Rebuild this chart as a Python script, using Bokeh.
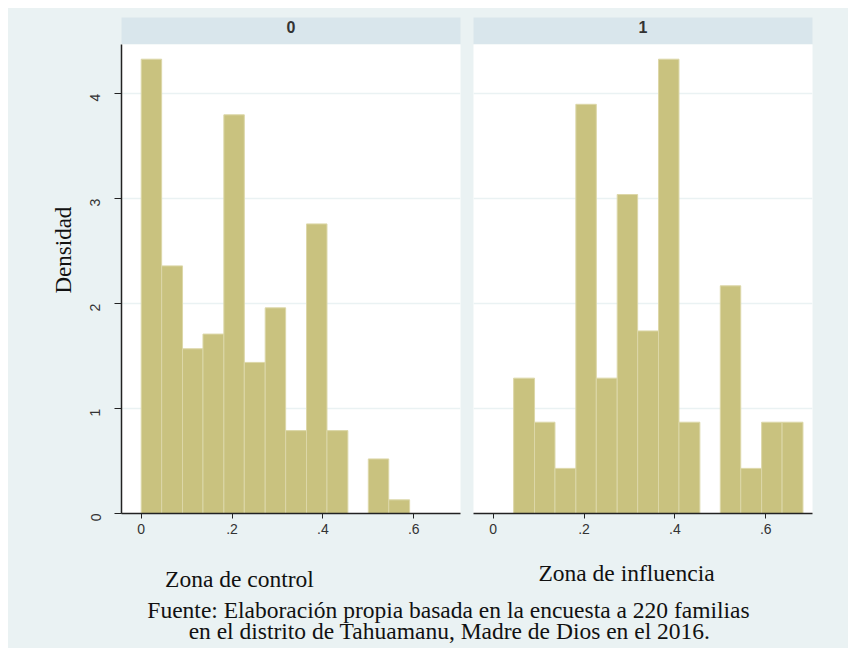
import math
from bokeh.plotting import figure
from bokeh.layouts import row, column
from bokeh.models import (Range1d, FixedTicker, CustomJSTickFormatter, Label, Title,
                          ColumnDataSource, Spacer)
from bokeh.embed import file_html
from bokeh.resources import INLINE

# ---------------- data ----------------
bin_edges = [0.000, 0.045, 0.091, 0.136, 0.182, 0.227, 0.273, 0.318,
             0.364, 0.409, 0.455, 0.500, 0.545, 0.591, 0.636, 0.682]
dens_control = [4.33, 2.36, 1.57, 1.71, 3.80, 1.44, 1.96, 0.79, 2.76, 0.79, 0.0, 0.52, 0.13]
dens_influence = [0.0, 1.29, 0.87, 0.43, 3.90, 1.29, 3.04, 1.74, 4.33, 0.87, 0.0, 2.17, 0.43, 0.87, 0.87]
panel_labels = ["0", "1"]
x_ticks = [0, 0.2, 0.4, 0.6]
x_tick_labels = ["0", ".2", ".4", ".6"]
y_ticks = [0, 1, 2, 3, 4]
y_tick_labels = ["0", "1", "2", "3", "4"]
y_title = "Densidad"
sub_titles = ["Zona de control", "Zona de influencia"]
note_lines = ["Fuente: Elaboración propia basada en la encuesta a 220 familias",
              "en el distrito de Tahuamanu, Madre de Dios en el 2016."]

# ---------------- style ----------------
BG = "#EAF2F3"
STRIP = "#D9E6EC"
BAR = "#C9C27F"
BAR_EDGE = "#DCD7A8"
AXIS = "#222222"
SANS = "Liberation Sans"
SERIF = "Liberation Serif"

x_rng = (-0.0434, 0.703)
y_rng = (0.0, 4.47)


def fmt(vals, labs):
    return CustomJSTickFormatter(args=dict(vals=vals, labs=labs),
                                 code="const i = vals.indexOf(tick); return i >= 0 ? labs[i] : '';")


def header(label, w, left, right):
    h = figure(width=w, height=36, x_range=Range1d(0, 1), y_range=Range1d(0, 1),
               x_axis_type=None, y_axis_type=None, toolbar_location=None, tools="",
               output_backend="svg", min_border_left=left, min_border_right=right,
               min_border_top=9, min_border_bottom=0)
    h.background_fill_color = STRIP
    h.border_fill_color = BG
    h.outline_line_color = None
    h.add_layout(Label(x=0.5, y=0.64, text=label, text_align="center", text_baseline="middle",
                       text_font=SANS, text_font_size="16px", text_font_style="bold",
                       text_color="#333333"))
    return h


def panel(dens, w, left, right, show_y):
    p = figure(width=w, height=501, x_range=Range1d(*x_rng), y_range=Range1d(*y_rng),
               toolbar_location=None, tools="", output_backend="svg",
               min_border_left=left, min_border_right=right,
               min_border_top=0, min_border_bottom=32)
    p.background_fill_color = "white"
    p.border_fill_color = BG
    p.outline_line_color = None
    n = len(dens)
    keep = [i for i in range(n) if dens[i] > 0]
    src = ColumnDataSource(dict(
        left=[bin_edges[i] for i in keep],
        right=[bin_edges[i + 1] for i in keep],
        top=[dens[i] for i in keep],
        bottom=[0.0 for i in keep],
    ))
    p.quad(left="left", right="right", top="top", bottom="bottom", source=src,
           fill_color=BAR, line_color=BAR_EDGE, line_width=1)
    # x axis
    xa = p.xaxis[0]
    xa.ticker = FixedTicker(ticks=x_ticks)
    xa.formatter = fmt(x_ticks, x_tick_labels)
    xa.axis_line_color = AXIS
    xa.axis_line_width = 1.5
    xa.major_tick_line_color = AXIS
    xa.major_tick_out = 5
    xa.major_tick_in = 0
    xa.minor_tick_line_color = None
    xa.major_label_standoff = 5
    xa.major_label_text_font = SANS
    xa.major_label_text_font_size = "14px"
    xa.major_label_text_color = "#333333"
    # y axis
    ya = p.yaxis[0]
    ya.ticker = FixedTicker(ticks=y_ticks)
    ya.formatter = fmt(y_ticks, y_tick_labels)
    if show_y:
        ya.axis_line_color = AXIS
        ya.axis_line_width = 1.5
        ya.major_tick_line_color = AXIS
        ya.major_tick_out = 7
        ya.major_tick_in = 0
        ya.minor_tick_line_color = None
        ya.major_label_orientation = math.pi / 2
        ya.major_label_standoff = 19
        ya.major_label_text_font = SANS
        ya.major_label_text_font_size = "14px"
        ya.major_label_text_color = "#333333"
        p.add_layout(Title(text=y_title, align="left", offset=220, standoff=13,
                           text_font=SERIF, text_font_size="23px",
                           text_font_style="normal", text_color="#111111"), "left")
    else:
        ya.visible = False
    p.xgrid.grid_line_color = None
    p.ygrid.ticker = FixedTicker(ticks=y_ticks)
    p.ygrid.grid_line_color = BG
    p.ygrid.grid_line_width = 1.5
    return p


h0 = header(panel_labels[0], 458, 112, 6)
h1 = header(panel_labels[1], 382, 6, 36)
p0 = panel(dens_control, 458, 113, 6, True)
p1 = panel(dens_influence, 382, 7, 36, False)

foot = figure(width=840, height=103, x_range=Range1d(0, 840), y_range=Range1d(0, 103),
              x_axis_type=None, y_axis_type=None, toolbar_location=None, tools="",
              output_backend="svg", min_border=0)
foot.background_fill_color = BG
foot.border_fill_color = BG
foot.outline_line_color = None
for txt, x, y in [(sub_titles[0], 231, 70), (sub_titles[1], 618, 76),
                  (note_lines[0], 440, 39), (note_lines[1], 441, 18)]:
    foot.add_layout(Label(x=x, y=y, text=txt, text_align="center", text_baseline="middle",
                          text_font=SERIF, text_font_size="23.5px", text_color="#111111"))

bg_style = {"background-color": BG}
c0 = column(h0, p0, spacing=0, styles=bg_style)
c1 = column(h1, p1, spacing=0, styles=bg_style)
r = row(c0, c1, spacing=0, styles=bg_style)
inner = column(r, foot, spacing=0, styles=bg_style)
outer = column(Spacer(width=848, height=8),
               row(Spacer(width=8, height=640), inner, spacing=0),
               spacing=0)

with open("out.html", "w") as f:
    f.write(file_html(outer, INLINE))
